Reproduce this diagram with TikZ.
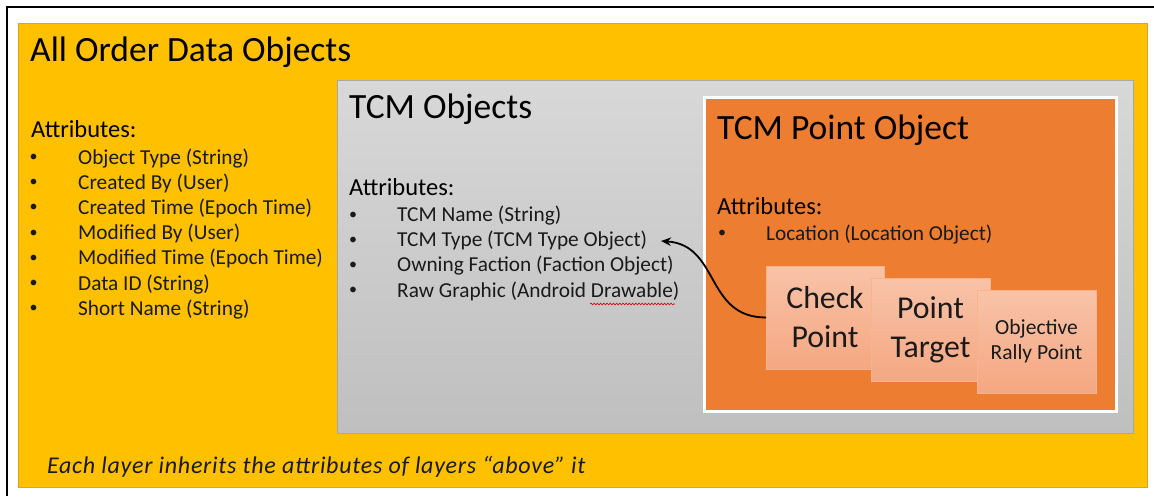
\documentclass[tikz,border=0pt]{standalone}
\usepackage{fontspec}
\setmainfont{Carlito}
\usetikzlibrary{arrows.meta,decorations.pathmorphing}
\definecolor{goldfill}{HTML}{FFC000}
\definecolor{goldline}{HTML}{D9A620}
\definecolor{greytop}{HTML}{D8D8D8}
\definecolor{greybot}{HTML}{BFBFBF}
\definecolor{greyline}{HTML}{A8A8A8}
\definecolor{orangefill}{HTML}{ED7D31}
\definecolor{peachtop}{HTML}{F8C3A8}
\definecolor{peachbot}{HTML}{F5A782}
\definecolor{peachline}{HTML}{F7B48F}
\definecolor{inktext}{HTML}{1A1A1A}
\tikzset{
  layerbox/.style={anchor=north west, inner sep=0pt, outer sep=0pt},
  pointbox/.style={layerbox, draw=peachline, line width=1pt,
    top color=peachtop, bottom color=peachbot, align=center, text=inktext},
  bigtitle/.style={anchor=base west, inner sep=0pt, font=\fontsize{35.5}{42}\selectfont},
  attrhead/.style={anchor=base west, inner sep=0pt, font=\fontsize{24.5}{29}\selectfont},
  attritem/.style={anchor=base west, inner sep=0pt, text=inktext, font=\fontsize{21.3}{25}\selectfont},
  dot/.style={anchor=base west, inner sep=0pt, text=inktext, font=\fontsize{16}{18}\selectfont},
  link/.style={line width=1.8pt, -{Stealth[length=10pt,width=8.5pt]}},
}
\begin{document}
\begin{tikzpicture}[x=1pt,y=-1pt]
\useasboundingbox (0,0) rectangle (1154,496);
% frame of the page
\draw[line width=2pt] (7,496) -- (7,7.3) -- (1154,7.3);

% nested layers
\node[layerbox, draw=goldline, line width=1pt, fill=goldfill,
      minimum width=1129pt, minimum height=464pt] (allorder) at (18,23) {};
\node[layerbox, draw=greyline, line width=1pt, top color=greytop, bottom color=greybot,
      minimum width=796pt, minimum height=353pt] (tcm) at (337,80) {};
\node[layerbox, draw=white, line width=3pt, fill=orangefill,
      minimum width=412pt, minimum height=314pt] (tcmpoint) at (704,97) {};

% outer layer text
\node[bigtitle] (allorderTitle) at (30,61) {All Order Data Objects};
\node[attrhead] (allorderAttr) at (31,137) {Attributes:};
\foreach \txt [count=\i from 0] in {Object Type (String), Created By (User),
    Created Time (Epoch Time), Modified By (User), Modified Time (Epoch Time),
    Data ID (String), Short Name (String)} {
  \node[dot] (aoBullet\i) at (29.5,161.5+25.2*\i) {•};
  \node[attritem] (aoItem\i) at (78,164+25.2*\i) {\txt};
}

% TCM layer text
\node[bigtitle] (tcmTitle) at (349,118) {TCM Objects};
\node[attrhead] (tcmAttr) at (349,195) {Attributes:};
\foreach \txt [count=\i from 0] in {TCM Name (String), TCM Type (TCM Type Object),
    Owning Faction (Faction Object), Raw Graphic (Android Drawable)} {
  \node[dot] (tcmBullet\i) at (349,219+25.2*\i) {•};
  \node[attritem] (tcmItem\i) at (397,221.5+25.2*\i) {\txt};
}
\draw[red!85!black, line width=0.6pt, decorate,
      decoration={snake, amplitude=0.9pt, segment length=3.2pt}] (590,304) -- (675,304);

% TCM point layer text
\node[bigtitle] (pointTitle) at (717,139) {TCM Point Object};
\node[attrhead] (pointAttr) at (717,214) {Attributes:};
\node[dot] (pointBullet) at (718,237.5) {•};
\node[attritem] (pointItem) at (766,240) {Location (Location Object)};

% point kinds
\node[pointbox, minimum width=118pt, minimum height=103pt,
      font=\fontsize{31.8}{39}\selectfont] (check) at (766,266) {Check\\Point};
\node[pointbox, minimum width=119pt, minimum height=103pt,
      font=\fontsize{31.8}{39}\selectfont] (target) at (871,278) {Point\\Target};
\node[pointbox, minimum width=119pt, minimum height=103pt,
      font=\fontsize{21.5}{25.5}\selectfont] (rally) at (977,290) {Objective\\Rally Point};

% type reference
\coordinate (typeTip) at (661,241);
\draw[link] (check.west) .. controls +(-61,0) and +(59,4) .. (typeTip);

% footer note
\node[anchor=base west, inner sep=0pt, text=inktext,
      font=\itshape\fontsize{24}{28}\selectfont\addfontfeatures{LetterSpace=3}] (note) at (47,473)
  {Each layer inherits the attributes of layers “above” it};
\end{tikzpicture}
\end{document}
